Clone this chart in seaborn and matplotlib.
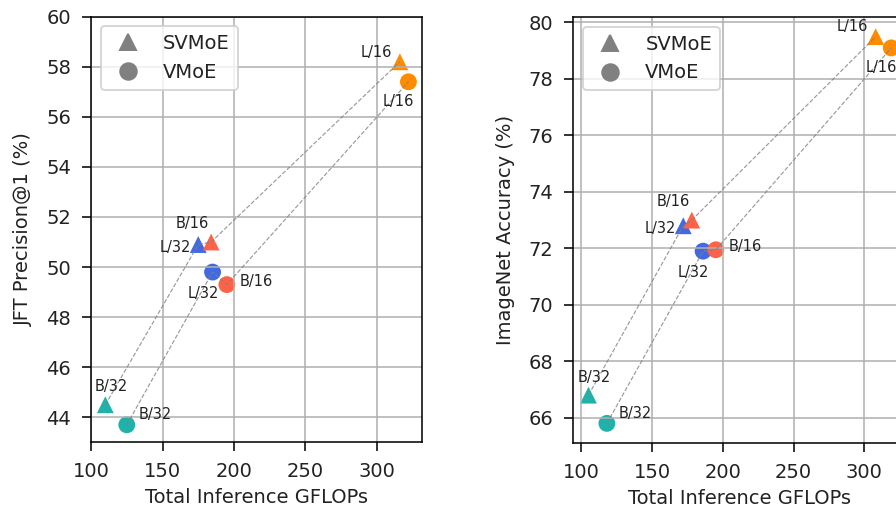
import pandas as pd
import matplotlib.pyplot as plt
import seaborn as sns
from matplotlib.lines import Line2D

# model variants, in the order the dashed lines connect them
variants = ['B/32', 'L/32', 'B/16', 'L/16']
models = ['SVMoE', 'VMoE']

# JFT panel
jft_gflops_svmoe = [110, 175, 184, 316]
jft_prec_svmoe = [44.5, 50.9, 51.0, 58.2]
jft_gflops_vmoe = [125, 185, 195, 322]
jft_prec_vmoe = [43.7, 49.8, 49.3, 57.4]

# ImageNet panel
in_gflops_svmoe = [105, 172, 178, 308]
in_acc_svmoe = [66.8, 72.8, 73.0, 79.5]
in_gflops_vmoe = [118, 186, 195, 319]
in_acc_vmoe = [65.8, 71.9, 71.95, 79.1]

palette = {'B/32': 'lightseagreen', 'L/32': 'royalblue',
           'B/16': 'tomato', 'L/16': 'darkorange'}
markers = {'SVMoE': '^', 'VMoE': 'o'}

# label offsets (points) per model / variant
offsets = {
    ('SVMoE', 'B/32'): (3, 9.2), ('SVMoE', 'L/32'): (-12, -1.4),
    ('SVMoE', 'B/16'): (-9.5, 9.5), ('SVMoE', 'L/16'): (-12, 5),
    ('VMoE', 'B/32'): (14.5, 5.3), ('VMoE', 'L/32'): (-5, -11),
    ('VMoE', 'B/16'): (15, 1.7), ('VMoE', 'L/16'): (-5, -10),
}


def make_df(x_sv, y_sv, x_v, y_v):
    return pd.DataFrame({
        'gflops': x_sv + x_v,
        'value': y_sv + y_v,
        'model': ['SVMoE'] * 4 + ['VMoE'] * 4,
        'variant': variants * 2,
    })


jft_df = make_df(jft_gflops_svmoe, jft_prec_svmoe, jft_gflops_vmoe, jft_prec_vmoe)
in_df = make_df(in_gflops_svmoe, in_acc_svmoe, in_gflops_vmoe, in_acc_vmoe)

fig = plt.figure(figsize=(896 / 140, 508 / 140), dpi=140)
ax1 = fig.add_axes([0.1016, 0.1293, 0.3694, 0.8378])
ax2 = fig.add_axes([0.6399, 0.1285, 0.3717, 0.8375])


def draw(ax, df, ylabel):
    sns.scatterplot(data=df, x='gflops', y='value', hue='variant', style='model',
                    palette=palette, markers=markers, s=75, linewidth=0,
                    legend=False, ax=ax)
    for m in models:
        sub = df[df['model'] == m]
        sns.lineplot(x=sub['gflops'].values, y=sub['value'].values, sort=False,
                     estimator=None, color='gray', linestyle='--', linewidth=0.6,
                     alpha=0.8, ax=ax)
    for _, r in df.iterrows():
        ax.annotate(r['variant'], (r['gflops'], r['value']),
                    xytext=offsets[(r['model'], r['variant'])],
                    textcoords='offset points', ha='center', va='center',
                    fontsize=7.5, color='#222222')
    ax.grid(True)
    ax.tick_params(length=4.8, pad=5.5, labelcolor='#222222')
    ax.set_xlabel('Total Inference GFLOPs', labelpad=3.5, color='#222222')
    ax.set_ylabel(ylabel, labelpad=7, color='#222222')
    handles = [Line2D([], [], marker=markers[m], color='gray', linestyle='none',
                      markersize=8.5, label=m) for m in models]
    ax.legend(handles=handles, loc='upper left', labelcolor='#222222')


draw(ax1, jft_df, 'JFT Precision@1 (%)')
ax1.set_xlim(100, 331.5)
ax1.set_ylim(43, 60)
ax1.set_yticks(range(44, 61, 2))
draw(ax2, in_df, 'ImageNet Accuracy (%)')
ax2.set_yticks(range(66, 81, 2))

fig.savefig('out.png', dpi=140)
